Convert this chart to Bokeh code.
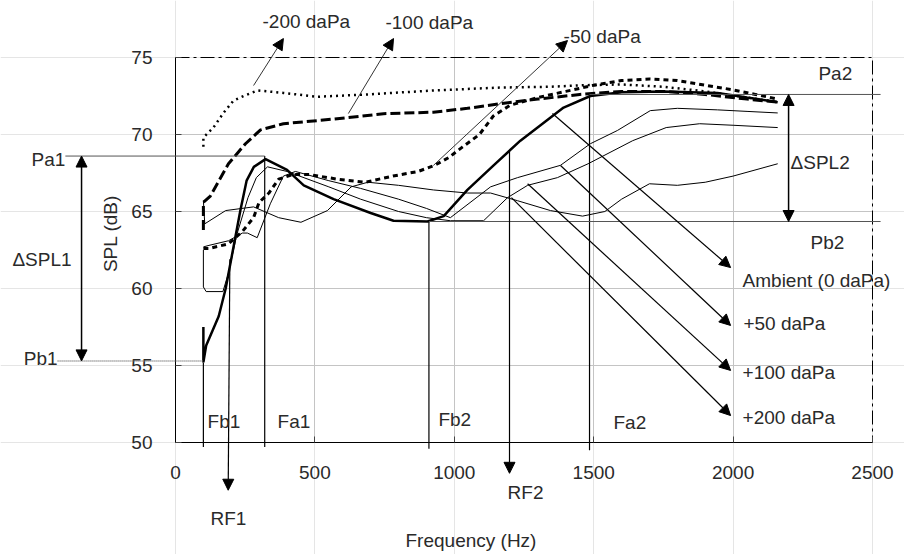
from bokeh.plotting import figure
from bokeh.models import (Range1d, FixedTicker, Arrow, NormalHead, Label, LinearAxis, Grid)
from bokeh.embed import file_html
from bokeh.resources import INLINE

# ---------------- data (Hz, dB) ----------------
freq_m200 = [100, 100, 136, 172, 208, 244, 294, 387, 509, 689, 925, 1166, 1345, 1463, 1600, 1750, 1900, 2050, 2160]
spl_m200 = [69.2, 69.8, 70.45, 71.4, 72.2, 72.5, 72.86, 72.7, 72.45, 72.6, 72.86, 73.05, 73.1, 73.2, 73.25, 73.1, 72.8, 72.4, 72.1]

freq_m100 = [100, 100, 125, 190, 251, 305, 387, 567, 746, 925, 1047, 1166, 1300, 1450, 1600, 1750, 1900, 2050, 2160]
spl_m100 = [63.8, 65.6, 66.0, 68.1, 69.4, 70.3, 70.7, 71.0, 71.35, 71.45, 71.7, 72.0, 72.3, 72.6, 72.8, 72.8, 72.6, 72.3, 72.1]

freq_m50 = [100, 120, 190, 240, 280, 300, 335, 370, 420, 480, 580, 680, 780, 870, 930, 980, 1030, 1090,
            1140, 1200, 1300, 1400, 1500, 1600, 1700, 1800, 1900, 2000, 2080, 2160]
spl_m50 = [62.6, 62.6, 62.9, 63.7, 64.6, 65.6, 66.2, 67.1, 67.4, 67.4, 67.1, 66.9, 67.3, 67.6, 68.0, 68.5, 69.2, 70.0,
           71.2, 71.9, 72.4, 72.8, 73.2, 73.5, 73.6, 73.5, 73.2, 72.9, 72.6, 72.3]

freq_amb = [100, 100, 110, 155, 180, 233, 255, 281, 323, 400, 460, 567, 700, 782, 904, 962, 1047, 1141, 1237,
            1392, 1488, 1600, 1750, 1944, 2050, 2160]
spl_amb = [57.5, 55.2, 56.3, 58.2, 60.0, 65.1, 67.0, 67.9, 68.4, 67.7, 66.7, 65.8, 64.9, 64.4, 64.35, 64.7, 66.4,
           68.0, 69.6, 71.75, 72.5, 72.75, 72.8, 72.7, 72.4, 72.1]

freq_p50 = [100, 120, 190, 240, 258, 293, 340, 387, 430, 550, 664, 800, 900, 986, 1130, 1227, 1381, 1488, 1585,
            1703, 1800, 1944, 2050, 2160]
spl_p50 = [62.7, 62.8, 63.1, 63.6, 63.6, 63.3, 65.5, 67.3, 67.6, 67.0, 66.5, 65.8, 65.2, 64.6, 66.6, 67.2, 68.0,
           69.4, 70.26, 71.55, 71.7, 71.6, 71.5, 71.4]

freq_p100 = [100, 100, 110, 170, 190, 220, 260, 290, 330, 400, 550, 664, 800, 900, 986, 1105, 1191, 1263, 1370,
             1480, 1640, 1760, 1880, 2000, 2160]
spl_p100 = [62.5, 60.1, 59.8, 59.8, 61.0, 63.5, 65.9, 67.2, 67.9, 67.6, 66.6, 65.8, 65.0, 64.6, 64.4, 64.4, 65.9,
            66.7, 67.2, 68.1, 69.6, 70.45, 70.7, 70.6, 70.45]

freq_p200 = [100, 105, 180, 280, 370, 450, 545, 630, 690, 800, 925, 1047, 1130, 1227, 1345, 1460, 1540, 1600,
             1700, 1800, 1900, 2000, 2100, 2160]
spl_p200 = [65.7, 64.2, 65.06, 65.3, 64.6, 64.3, 65.06, 66.6, 66.9, 66.7, 66.4, 66.2, 66.2, 65.7, 65.06, 64.7,
            65.0, 65.8, 66.8, 66.7, 66.9, 67.3, 67.8, 68.1]

# characteristic points
Fb1, Fa1, Fb2, Fa2 = 100, 320, 909, 1485
RF1, RF2 = 195, 1198
Pa1, Pb1, Pa2, Pb2 = 68.6, 55.3, 72.6, 64.35

x_ticks = [0, 500, 1000, 1500, 2000, 2500]
y_ticks = [50, 55, 60, 65, 70, 75]

FONT = "Liberation Sans"
FS = "19px"
TXT = "#2a2a2a"

W, H = 904, 554
# plot area inside the page (pixels): left, right, top, bottom
FL, FR, FT, FB = 175, 872, 57, 442
sx = (FR - FL) / (x_ticks[-1] - x_ticks[0])
sy = (FB - FT) / (y_ticks[-1] - y_ticks[0])
x_range = Range1d(x_ticks[0] - FL / sx, x_ticks[-1] + (W - FR) / sx)
y_range = Range1d(y_ticks[0] - (H - FB) / sy, y_ticks[-1] + FT / sy)

p = figure(width=W, height=H, output_backend="svg", toolbar_location=None,
           x_range=x_range, y_range=y_range, x_axis_location=None, y_axis_location=None,
           min_border=0, min_border_left=0, min_border_right=0, min_border_top=0, min_border_bottom=0)
p.background_fill_color = "white"
p.border_fill_color = "white"
p.outline_line_color = None

xt = FixedTicker(ticks=x_ticks)
yt = FixedTicker(ticks=y_ticks)
xax = LinearAxis(ticker=xt, fixed_location=y_ticks[0], bounds=(x_ticks[0], x_ticks[-1]))
yax = LinearAxis(ticker=yt, fixed_location=x_ticks[0], bounds=(y_ticks[0], y_ticks[-1]))
for ax in (xax, yax):
    ax.axis_line_color = "black"
    ax.axis_line_width = 1
    ax.major_tick_in = 6
    ax.major_tick_out = 0
    ax.major_tick_line_color = "#444444"
    ax.minor_tick_line_color = None
    ax.major_label_text_font = FONT
    ax.major_label_text_font_size = FS
    ax.major_label_text_color = TXT
    ax.major_label_standoff = 23

# grid (inner lines only)
gx_ticks = x_ticks[1:-1]
gy_ticks = y_ticks[1:-1]
if "cross_bounds" in Grid.properties():
    p.add_layout(Grid(dimension=0, ticker=FixedTicker(ticks=gx_ticks), bounds=(x_ticks[0], x_ticks[-1]),
                      cross_bounds=(y_ticks[0], y_ticks[-1]), grid_line_color="#c4c4c4"))
    p.add_layout(Grid(dimension=1, ticker=FixedTicker(ticks=gy_ticks), bounds=(y_ticks[0], y_ticks[-1]),
                      cross_bounds=(x_ticks[0], x_ticks[-1]), grid_line_color="#c4c4c4"))
else:
    p.segment(x0=gx_ticks, x1=gx_ticks, y0=[y_ticks[0]] * len(gx_ticks), y1=[y_ticks[-1]] * len(gx_ticks),
              line_color="#c4c4c4", line_width=1)
    p.segment(x0=[x_ticks[0]] * len(gy_ticks), x1=[x_ticks[-1]] * len(gy_ticks), y0=gy_ticks, y1=gy_ticks,
              line_color="#c4c4c4", line_width=1)

# dash-dot top and right border of the plot area
p.line([x_ticks[0], x_ticks[-1], x_ticks[-1]], [y_ticks[-1], y_ticks[-1], y_ticks[0]],
       line_color="black", line_width=1, line_dash="14 4 3 4")

p.add_layout(xax, "below")
p.add_layout(yax, "left")

# curves
p.line(freq_p200, spl_p200, line_color="black", line_width=1)
p.line(freq_p100, spl_p100, line_color="black", line_width=1)
p.line(freq_p50, spl_p50, line_color="black", line_width=1)
p.line(freq_m200, spl_m200, line_color="black", line_width=2.5, line_dash="2 4")
p.line(freq_m100, spl_m100, line_color="black", line_width=3, line_dash="10 4")
p.line(freq_m50, spl_m50, line_color="black", line_width=3, line_dash="5 4")
p.line(freq_amb, spl_amb, line_color="black", line_width=2.5)


def seg(x0, y0, x1, y1, color="black", width=1.0, dash="solid", start=False, end=False):
    def head():
        return NormalHead(size=11, fill_color="black", line_color="black", line_width=1)
    p.add_layout(Arrow(x_start=x0, y_start=y0, x_end=x1, y_end=y1, line_color=color, line_width=width,
                       line_dash=dash, start=head() if start else None, end=head() if end else None))


# marker verticals
seg(Fb1, 55.2, Fb1, 49.7, width=1.2)
seg(Fa1, Pa1, Fa1, 49.7, width=1.2)
seg(Fb2, Pb2, Fb2, 49.6, width=1.2)
seg(Fa2, Pa2, Fa2, 49.5, width=1.2)
# level lines
seg(-395, Pa1, Fa1, Pa1, color="#555555", width=1)
seg(-423, Pb1, Fb1, Pb1, color="#777777", width=1.5, dash="1 1")
seg(Fa2, Pa2, 2529, Pa2, color="#555555", width=1)
seg(Fb2, Pb2, 2529, Pb2, color="#555555", width=1)
# delta arrows
seg(-337, Pa1, -337, Pb1, width=1.5, start=True, end=True)
seg(2199, Pa2, 2199, Pb2, width=1.5, start=True, end=True)
# resonance arrows
seg(RF1, 61.9, RF1 - 6, 46.9, width=1.2, end=True)
seg(RF2, 69.0, RF2, 48.0, width=1.2, end=True)
# label arrows, top
seg(280, 73.18, 387, 76.23, color="#333333", end=True)
seg(620, 71.36, 782, 76.23, color="#333333", end=True)
seg(925, 67.99, 1406, 76.1, color="#333333", end=True)
# label arrows, right
seg(1352, 71.36, 1991, 61.36, width=1.2, end=True)
seg(1381, 67.99, 1991, 57.6, width=1.2, end=True)
seg(1263, 66.8, 1991, 54.68, width=1.2, end=True)
seg(1205, 65.9, 1991, 51.75, width=1.2, end=True)


def lab(x, y, t, align="left", angle=0.0):
    p.add_layout(Label(x=x, y=y, text=t, text_font=FONT, text_font_size=FS, text_color=TXT,
                       text_align=align, text_baseline="middle", angle=angle))


lab(312, 77.34, "-200 daPa")
lab(753, 77.27, "-100 daPa")
lab(1392, 76.36, "-50 daPa")
lab(2306, 73.96, "Pa2")
lab(2206, 68.18, "ΔSPL2")
lab(2278, 62.99, "Pb2")
lab(2034, 60.52, "Ambient (0 daPa)")
lab(2037, 57.73, "+50 daPa")
lab(2034, 54.55, "+100 daPa")
lab(2034, 51.62, "+200 daPa")
lab(115, 51.36, "Fb1")
lab(366, 51.36, "Fa1")
lab(943, 51.49, "Fb2")
lab(1571, 51.3, "Fa2")
lab(190, 45.06, "RF1", align="center")
lab(1191, 46.75, "RF2")
lab(825, 43.64, "Frequency (Hz)")
lab(-233, 63.57, "SPL (dB)", align="center", angle=1.5708)
lab(-395, 68.38, "Pa1", align="right")
lab(-423, 55.45, "Pb1", align="right")
lab(-585, 61.88, "ΔSPL1")

open("out.html", "w").write(file_html(p, INLINE))
